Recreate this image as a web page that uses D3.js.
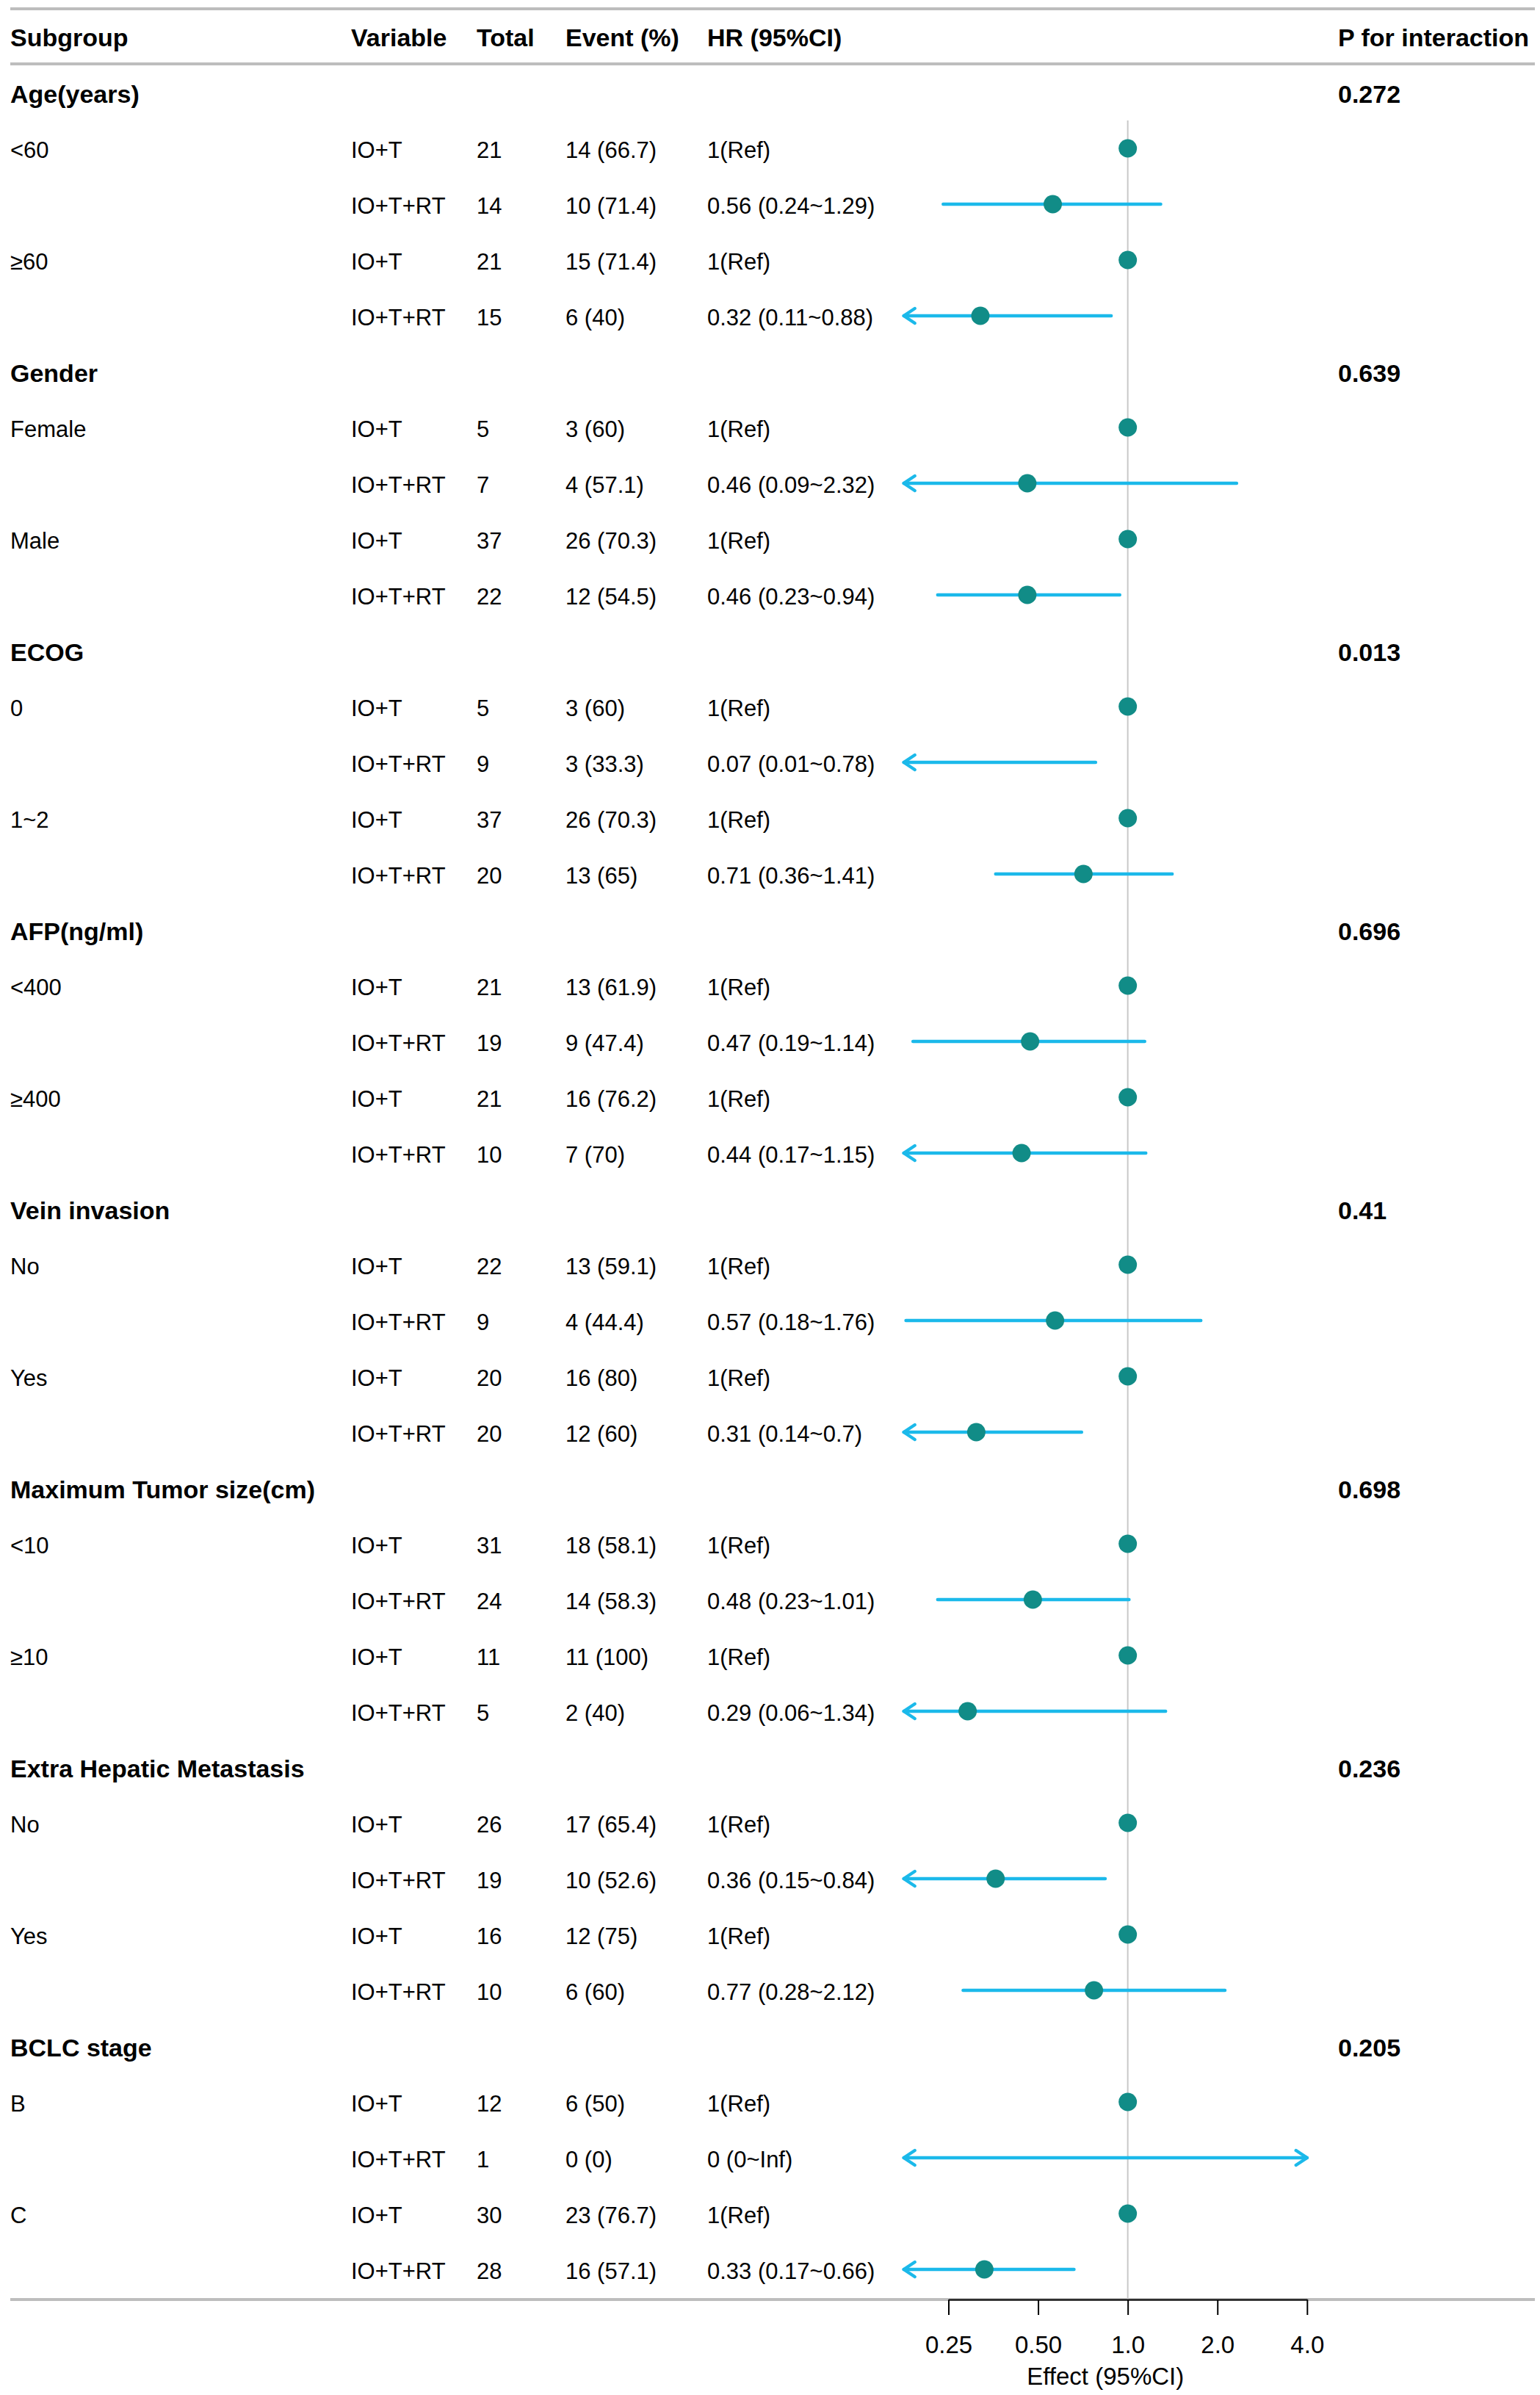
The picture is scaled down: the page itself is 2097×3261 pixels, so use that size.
<!DOCTYPE html>
<head>
    <meta charset="utf-8">
    <style>
      body {
          margin: 0;
          background: #fff;
      }

      text {
          font-family: 'Liberation Sans', Arial, sans-serif;
          fill: #000;
      }

      .cell { font-size: 31px; }
      .bold { font-size: 34px; font-weight: bold; }

      .rule {
        stroke: #bdbdbd;
        stroke-width: 4px;
      }

      .ref {
        stroke: #c8c8c8;
        stroke-width: 2px;
      }

      .ci {
        fill: none;
        stroke: #1bb9ea;
        stroke-width: 4.5px;
        stroke-linecap: round;
        stroke-linejoin: round;
      }

      .dot { fill: #118c87; }

      .axis path, .axis line {
        stroke: #000;
        stroke-width: 2px;
      }
      .axis text {
        font-size: 33px;
        font-family: 'Liberation Sans', Arial, sans-serif;
      }
  </style>
</head>
<body>
<svg id="forest" width="2097" height="3261"></svg>
</body>
<script src="https://cdn.jsdelivr.net/npm/d3@7/dist/d3.min.js"></script>
<script>
  // table columns
  var headers = ["Subgroup", "Variable", "Total", "Event (%)", "HR (95%CI)", "P for interaction"];

  // one entry per subgroup block
  var groups = ["Age(years)", "Gender", "ECOG", "AFP(ng/ml)", "Vein invasion",
                "Maximum Tumor size(cm)", "Extra Hepatic Metastasis", "BCLC stage"];
  var pInteraction = ["0.272", "0.639", "0.013", "0.696", "0.41", "0.698", "0.236", "0.205"];
  var levels = [["<60", "≥60"], ["Female", "Male"], ["0", "1~2"], ["<400", "≥400"],
                ["No", "Yes"], ["<10", "≥10"], ["No", "Yes"], ["B", "C"]];
  var arms = ["IO+T", "IO+T+RT"];

  // one entry per data row (level x arm)
  var totals = [21, 14, 21, 15,  5, 7, 37, 22,  5, 9, 37, 20,  21, 19, 21, 10,
                22, 9, 20, 20,  31, 24, 11, 5,  26, 19, 16, 10,  12, 1, 30, 28];
  var eventN = [14, 10, 15, 6,  3, 4, 26, 12,  3, 3, 26, 13,  13, 9, 16, 7,
                13, 4, 16, 12,  18, 14, 11, 2,  17, 10, 12, 6,  6, 0, 23, 16];
  var eventPct = [66.7, 71.4, 71.4, 40,  60, 57.1, 70.3, 54.5,  60, 33.3, 70.3, 65,
                  61.9, 47.4, 76.2, 70,  59.1, 44.4, 80, 60,  58.1, 58.3, 100, 40,
                  65.4, 52.6, 75, 60,  50, 0, 76.7, 57.1];

  // IO+T+RT rows vs reference IO+T
  var hr   = [0.56, 0.32, 0.46, 0.46, 0.07, 0.71, 0.47, 0.44, 0.57, 0.31, 0.48, 0.29, 0.36, 0.77, 0, 0.33];
  var hrLo = [0.24, 0.11, 0.09, 0.23, 0.01, 0.36, 0.19, 0.17, 0.18, 0.14, 0.23, 0.06, 0.15, 0.28, 0, 0.17];
  var hrHi = [1.29, 0.88, 2.32, 0.94, 0.78, 1.41, 1.14, 1.15, 1.76, 0.7, 1.01, 1.34, 0.84, 2.12, Infinity, 0.66];

  var tickValues = [0.25, 0.5, 1, 2, 4];
  var tickLabels = ["0.25", "0.50", "1.0", "2.0", "4.0"];
  var xLower = 0.177;
  var axisTitle = "Effect (95%CI)";

  var colX = [14, 478, 649, 770, 963, 1822];
  var rowTop = 126, rowStep = 76;

  var svg = d3.select("svg#forest");
  var x = d3.scaleLog().base(2).domain([0.25, 4]).range([1291.5, 1779.8]);
  var xLeft = x(xLower), xRight = x(4);

  function fmt(v) { return v === Infinity ? "Inf" : String(v); }

  // build row list
  var rows = [];
  var k = 0, r = 0;
  groups.forEach(function(g, gi) {
    rows.push({ type: "group", idx: r++, name: g, p: pInteraction[gi] });
    levels[gi].forEach(function(lv) {
      arms.forEach(function(arm, ai) {
        var row = { type: "data", idx: r++, level: ai === 0 ? lv : "", arm: arm,
                    total: totals[k], event: eventN[k] + " (" + eventPct[k] + ")" };
        if (ai === 0) {
          row.hr = 1; row.lo = 1; row.hi = 1; row.label = "1(Ref)";
        } else {
          var j = (k - 1) / 2;
          row.hr = hr[j]; row.lo = hrLo[j]; row.hi = hrHi[j];
          row.label = fmt(hr[j]) + " (" + fmt(hrLo[j]) + "~" + fmt(hrHi[j]) + ")";
        }
        rows.push(row);
        k++;
      });
    });
  });

  function rowY(i) { return rowTop + i * rowStep; }
  var bottomY = 3131;

  // horizontal rules
  [12, 87, bottomY].forEach(function(y) {
    svg.append("line").attr("class", "rule")
      .attr("x1", 14).attr("x2", 2090).attr("y1", y).attr("y2", y);
  });

  // header
  svg.selectAll("text.head").data(headers).enter().append("text")
    .attr("class", "head bold")
    .attr("x", function(d, i) { return colX[i]; })
    .attr("y", 63)
    .text(function(d) { return d; });

  // reference line at HR = 1
  svg.append("line").attr("class", "ref")
    .attr("x1", x(1)).attr("x2", x(1))
    .attr("y1", rowY(1) - rowStep / 2).attr("y2", bottomY);

  // group rows
  var gRows = rows.filter(function(d) { return d.type === "group"; });
  svg.selectAll("text.gname").data(gRows).enter().append("text")
    .attr("class", "gname bold")
    .attr("x", colX[0]).attr("y", function(d) { return rowY(d.idx) + 14; })
    .text(function(d) { return d.name; });
  svg.selectAll("text.pval").data(gRows).enter().append("text")
    .attr("class", "pval bold")
    .attr("x", colX[5]).attr("y", function(d) { return rowY(d.idx) + 14; })
    .text(function(d) { return d.p; });

  // data rows
  var dRows = rows.filter(function(d) { return d.type === "data"; });
  var fields = ["level", "arm", "total", "event", "label"];
  fields.forEach(function(f, fi) {
    svg.selectAll("text.c" + fi).data(dRows).enter().append("text")
      .attr("class", "c" + fi + " cell")
      .attr("x", colX[fi])
      .attr("y", function(d) { return rowY(d.idx) + 13; })
      .text(function(d) { return d[f]; });
  });

  // confidence intervals with arrows where clipped
  var ciRows = dRows.filter(function(d) { return d.lo !== d.hi; });
  var ciG = svg.append("g");
  ciRows.forEach(function(d) {
    var y = rowY(d.idx);
    var x1 = d.lo < xLower ? xLeft : x(d.lo);
    var x2 = d.hi > 4 ? xRight : x(d.hi);
    ciG.append("path").attr("class", "ci")
      .attr("d", "M" + x1 + "," + y + "H" + x2);
    if (d.lo < xLower) {
      ciG.append("path").attr("class", "ci")
        .attr("d", "M" + (x1 + 15) + "," + (y - 10) + "L" + x1 + "," + y + "L" + (x1 + 15) + "," + (y + 10));
    }
    if (d.hi > 4) {
      ciG.append("path").attr("class", "ci")
        .attr("d", "M" + (x2 - 15) + "," + (y - 10) + "L" + x2 + "," + y + "L" + (x2 - 15) + "," + (y + 10));
    }
  });

  // point estimates (skip those below the axis range)
  var ptRows = dRows.filter(function(d) { return d.hr >= xLower; });
  svg.selectAll("circle.dot").data(ptRows).enter().append("circle")
    .attr("class", "dot")
    .attr("cx", function(d) { return x(d.hr); })
    .attr("cy", function(d) { return rowY(d.idx); })
    .attr("r", 12.5);

  // x axis
  var axis = svg.append("g")
    .attr("class", "axis")
    .attr("transform", "translate(0," + bottomY + ")")
    .call(d3.axisBottom(x).tickValues(tickValues)
      .tickFormat(function(d, i) { return tickLabels[i]; })
      .tickSize(21).tickSizeOuter(0).tickPadding(29));
  axis.selectAll("text").attr("fill", "#000");

  svg.append("text").attr("class", "cell")
    .style("font-size", "33px")
    .attr("text-anchor", "middle")
    .attr("x", (xLeft + xRight) / 2)
    .attr("y", 3247)
    .text(axisTitle);
</script>
